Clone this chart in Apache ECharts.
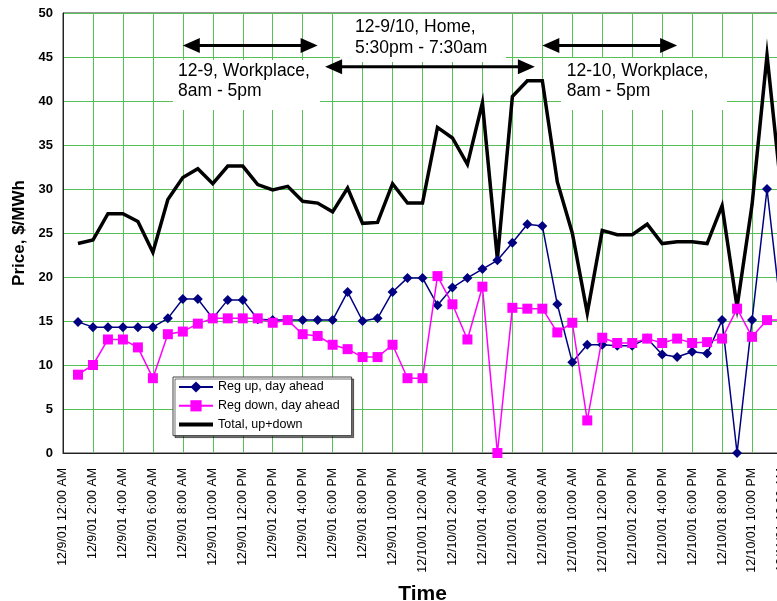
<!DOCTYPE html>
<html>
<head>
<meta charset="utf-8">
<script src="https://cdn.jsdelivr.net/npm/echarts@6/dist/echarts.min.js"></script>
<style>
  html, body { margin: 0; padding: 0; background: #fff; }
  #chart { width: 777px; height: 601px; }
</style>
</head>
<body>
<div id="chart"></div>
<script>
// Hourly regulation prices, hour-ending 1 ... 48 (12/9/01 01:00 through 12/11/01 00:00)
const tickLabels = [
  '12/9/01 12:00 AM', '12/9/01 2:00 AM', '12/9/01 4:00 AM', '12/9/01 6:00 AM',
  '12/9/01 8:00 AM', '12/9/01 10:00 AM', '12/9/01 12:00 PM', '12/9/01 2:00 PM',
  '12/9/01 4:00 PM', '12/9/01 6:00 PM', '12/9/01 8:00 PM', '12/9/01 10:00 PM',
  '12/10/01 12:00 AM', '12/10/01 2:00 AM', '12/10/01 4:00 AM', '12/10/01 6:00 AM',
  '12/10/01 8:00 AM', '12/10/01 10:00 AM', '12/10/01 12:00 PM', '12/10/01 2:00 PM',
  '12/10/01 4:00 PM', '12/10/01 6:00 PM', '12/10/01 8:00 PM', '12/10/01 10:00 PM',
  '12/11/01 12:00 AM'
];

const regUp = [
  14.9, 14.3, 14.3, 14.3, 14.3, 14.3, 15.3, 17.5, 17.5, 15.3, 17.4, 17.4,
  15.2, 15.1, 15.1, 15.1, 15.1, 15.1, 18.3, 15.0, 15.3, 18.3, 19.9, 19.9,
  16.8, 18.8, 19.9, 20.9, 21.9, 23.9, 26.0, 25.8, 16.9, 10.3, 12.3, 12.3,
  12.2, 12.2, 13.0, 11.2, 10.9, 11.5, 11.3, 15.1, 0.0, 15.1, 30.0, 15.0
];

const regDown = [
  8.9, 10.0, 12.9, 12.9, 12.0, 8.5, 13.5, 13.8, 14.7, 15.3, 15.3, 15.3,
  15.3, 14.8, 15.1, 13.5, 13.3, 12.3, 11.8, 10.9, 10.9, 12.3, 8.5, 8.5,
  20.1, 16.9, 12.9, 18.9, 0.0, 16.5, 16.4, 16.4, 13.7, 14.8, 3.7, 13.1,
  12.5, 12.5, 13.0, 12.5, 13.0, 12.5, 12.6, 13.0, 16.4, 13.2, 15.1, 15.1
];

const totalUpDown = [
  23.8, 24.2, 27.2, 27.2, 26.3, 22.8, 28.8, 31.3, 32.3, 30.6, 32.6, 32.6,
  30.5, 29.9, 30.3, 28.6, 28.4, 27.4, 30.1, 26.1, 26.2, 30.6, 28.4, 28.4,
  37.0, 35.8, 32.8, 39.8, 22.0, 40.5, 42.3, 42.3, 30.8, 25.0, 15.9, 25.3,
  24.8, 24.8, 26.0, 23.8, 24.0, 24.0, 23.8, 28.1, 16.6, 28.2, 45.2, 29.0
];

// Charging periods: [start hour, end hour, arrow level in $/MWh]
const periods = [
  { span: [8, 17], level: 46.3 },
  { span: [17.5, 31.5], level: 43.9 },
  { span: [32, 41], level: 46.3 }
];

const FONT = '"Liberation Sans", Arial, Helvetica, sans-serif';
const GRID_GREEN = '#55C155';

function hourPairs(values) {
  return values.map((v, i) => [i + 1, v]);
}

const chart = echarts.init(document.getElementById('chart'), null, { renderer: 'canvas' });

chart.setOption({
  animation: false,
  backgroundColor: '#fff',
  grid: {
    left: 63, top: 13, right: -5, bottom: 148,
    outerBoundsMode: 'none',
    containLabel: false,
    show: true, borderColor: '#333', borderWidth: 1, backgroundColor: 'transparent'
  },
  legend: {
    orient: 'vertical',
    left: 173, top: 377,
    itemWidth: 34, itemHeight: 14, itemGap: 4.8,
    padding: [3, 12, 4, 4],
    backgroundColor: '#fff',
    borderColor: '#444', borderWidth: 1,
    shadowColor: 'rgba(0,0,0,0.55)', shadowOffsetX: 2, shadowOffsetY: 2, shadowBlur: 0,
    textStyle: { fontFamily: FONT, fontSize: 12.5, color: '#000', lineHeight: 14 },
    data: [
      'Reg up, day ahead',
      'Reg down, day ahead',
      { name: 'Total, up+down', itemStyle: { opacity: 0 }, lineStyle: { width: 4, color: '#000' } }
    ]
  },
  xAxis: {
    type: 'value',
    min: 0, max: 48, interval: 2,
    name: 'Time',
    nameLocation: 'middle',
    nameGap: 131,
    nameTextStyle: { fontFamily: FONT, fontSize: 21, fontWeight: 'bold', color: '#000' },
    axisLine: { show: true, onZero: false, lineStyle: { color: '#222', width: 1 } },
    axisTick: { show: false },
    axisLabel: {
      rotate: 90, margin: 15,
      fontFamily: FONT, fontSize: 12.4, color: '#000',
      showMinLabel: true, showMaxLabel: true,
      formatter: (v) => tickLabels[Math.round(v / 2)] || ''
    },
    splitLine: { show: true, lineStyle: { color: GRID_GREEN, width: 1 } }
  },
  yAxis: {
    type: 'value',
    min: 0, max: 50, interval: 5,
    name: 'Price, $/MWh',
    nameLocation: 'middle',
    nameGap: 34.5,
    nameTextStyle: { fontFamily: FONT, fontSize: 17, fontWeight: 'bold', color: '#000' },
    axisLine: { show: true, lineStyle: { color: '#222', width: 1 } },
    axisTick: { show: false },
    axisLabel: { fontFamily: FONT, fontSize: 13, fontWeight: 'bold', color: '#000', margin: 10 },
    splitLine: { show: true, lineStyle: { color: GRID_GREEN, width: 1 } }
  },
  series: [
    {
      name: 'Reg up, day ahead',
      type: 'line',
      data: hourPairs(regUp),
      symbol: 'diamond', symbolSize: 10, showSymbol: true,
      lineStyle: { color: '#000080', width: 1.5 },
      itemStyle: { color: '#000080' },
      z: 3
    },
    {
      name: 'Reg down, day ahead',
      type: 'line',
      data: hourPairs(regDown),
      symbol: 'rect', symbolSize: 10, showSymbol: true,
      lineStyle: { color: '#FF00FF', width: 1.5 },
      itemStyle: { color: '#FF00FF' },
      z: 4
    },
    {
      name: 'Total, up+down',
      type: 'line',
      data: hourPairs(totalUpDown),
      symbol: 'none',
      lineStyle: { color: '#000', width: 3.5, join: 'miter' },
      itemStyle: { color: '#000' },
      z: 2
    }
  ]
});

// Annotation boxes and double-headed arrows for the charging periods
function toPx(h, v) {
  return chart.convertToPixel({ gridIndex: 0 }, [h, v]);
}

const graphics = [];
const boxes = [
  { x: 173, y: 60, w: 147, h: 50, tx: 178, ty: 60.6, text: '12-9, Workplace,\n8am - 5pm' },
  { x: 340, y: 14, w: 166, h: 48, tx: 355, ty: 17.3, text: '12-9/10, Home,\n5:30pm - 7:30am' },
  { x: 561, y: 58, w: 166, h: 52, tx: 566.7, ty: 60.6, text: '12-10, Workplace,\n8am - 5pm' }
];
boxes.forEach(b => {
  graphics.push({
    type: 'rect', z: 1, silent: true,
    shape: { x: b.x, y: b.y, width: b.w, height: b.h },
    style: { fill: '#fff' }
  });
  graphics.push({
    type: 'text', z: 5, silent: true,
    style: {
      x: b.tx, y: b.ty, text: b.text,
      font: '17.5px ' + FONT, fill: '#000',
      lineHeight: 20.7, verticalAlign: 'top', align: 'left'
    }
  });
});

const HEAD_LEN = 17, HEAD_HALF = 7.5;
periods.forEach(p => {
  const a = toPx(p.span[0], p.level);
  const b = toPx(p.span[1], p.level);
  const y = a[1];
  graphics.push({
    type: 'line', z: 6, silent: true,
    shape: { x1: a[0] + HEAD_LEN - 2, y1: y, x2: b[0] - HEAD_LEN + 2, y2: y },
    style: { stroke: '#000', lineWidth: 3 }
  });
  graphics.push({
    type: 'polygon', z: 6, silent: true,
    shape: { points: [[a[0], y], [a[0] + HEAD_LEN, y - HEAD_HALF], [a[0] + HEAD_LEN, y + HEAD_HALF]] },
    style: { fill: '#000' }
  });
  graphics.push({
    type: 'polygon', z: 6, silent: true,
    shape: { points: [[b[0], y], [b[0] - HEAD_LEN, y - HEAD_HALF], [b[0] - HEAD_LEN, y + HEAD_HALF]] },
    style: { fill: '#000' }
  });
});

chart.setOption({ graphic: graphics });
</script>
</body>
</html>
